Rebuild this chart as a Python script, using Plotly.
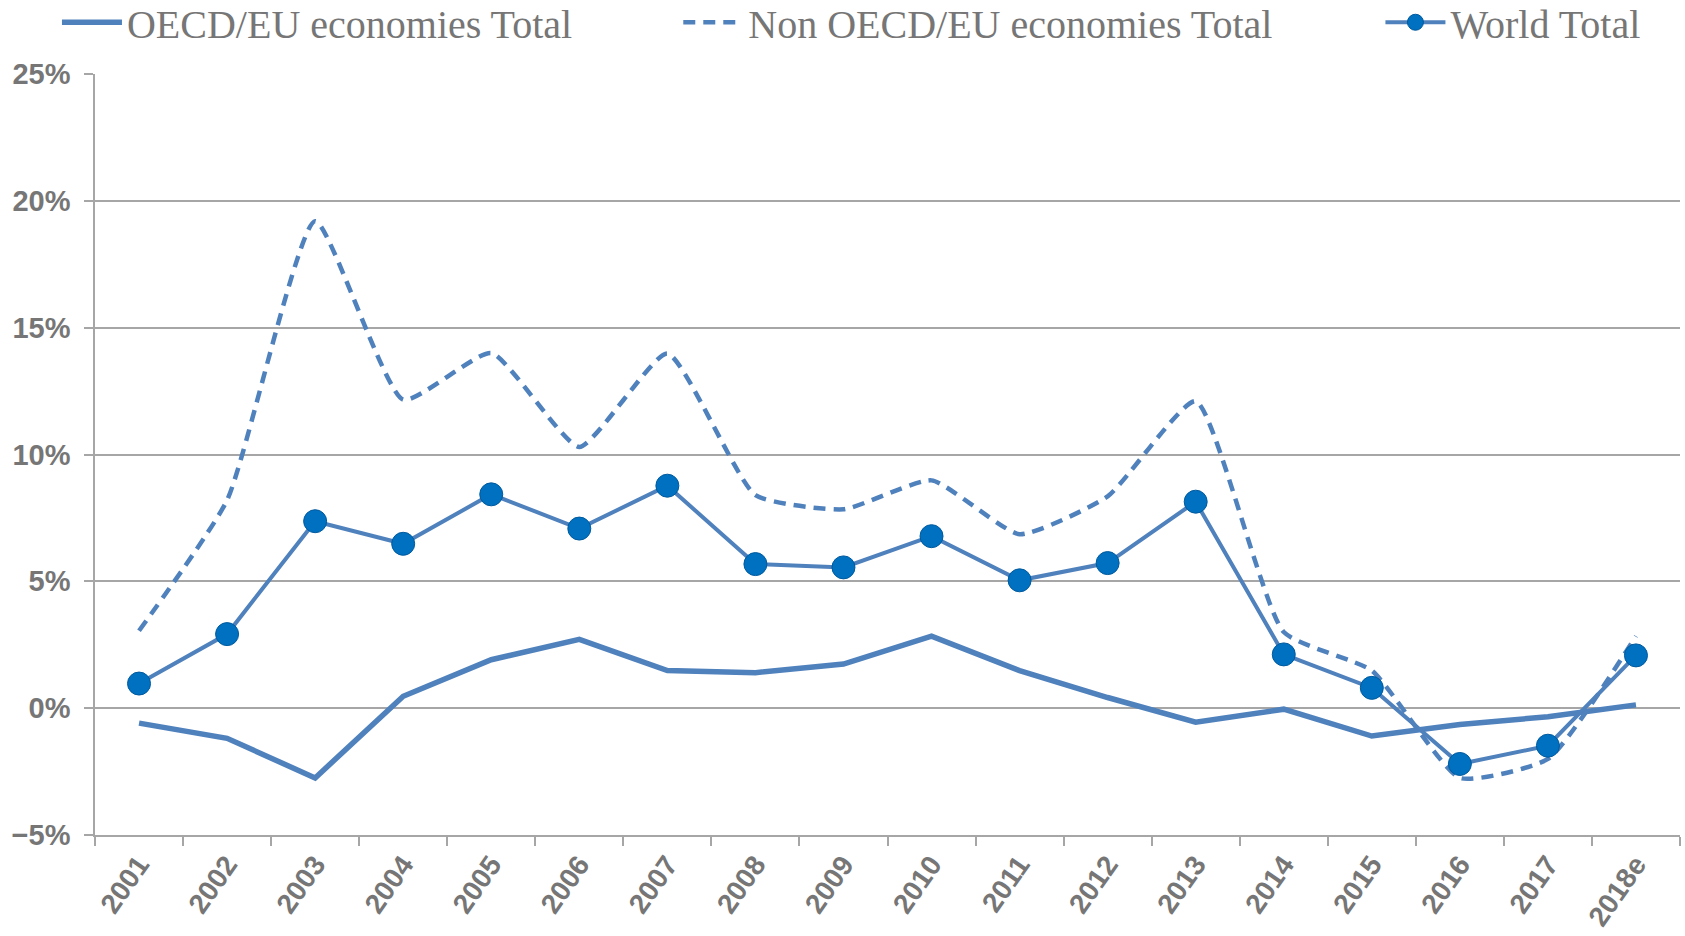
import plotly.graph_objects as go

years = ["2001", "2002", "2003", "2004", "2005", "2006", "2007", "2008", "2009",
         "2010", "2011", "2012", "2013", "2014", "2015", "2016", "2017", "2018e"]
oecd = [-0.59, -1.19, -2.75, 0.47, 1.91, 2.71, 1.48, 1.40, 1.74,
        2.84, 1.48, 0.42, -0.55, -0.04, -1.10, -0.64, -0.34, 0.13]
non_oecd = [3.05, 8.2, 19.2, 12.16, 14.0, 10.3, 13.98, 8.4, 7.84,
            8.98, 6.86, 8.35, 12.1, 3.0, 1.48, -2.75, -2.0, 2.84]
world = [0.97, 2.92, 7.37, 6.48, 8.43, 7.08, 8.77, 5.68, 5.55,
         6.78, 5.04, 5.72, 8.14, 2.12, 0.8, -2.2, -1.48, 2.08]

LINE = "#4F81BD"
MARK = "#0070C0"
GRAY = "#767676"
GRID = "#A6A6A6"

fig = go.Figure()
fig.add_trace(go.Scatter(x=years, y=oecd, mode="lines", name="OECD/EU economies Total",
                         line=dict(color=LINE, width=5.5), legend="legend"))
fig.add_trace(go.Scatter(x=years, y=non_oecd, mode="lines", name="Non OECD/EU economies Total",
                         line=dict(color=LINE, width=4.5, dash="12px,8px", shape="spline", smoothing=0.5),
                         legend="legend2"))
fig.add_trace(go.Scatter(x=years, y=world, mode="lines+markers", name="World Total",
                         line=dict(color=LINE, width=4),
                         marker=dict(color=MARK, size=23, line=dict(color="#005A9E", width=1)),
                         legend="legend3"))

legfont = dict(family="Liberation Serif, DejaVu Serif, serif", size=40, color=GRAY)
common = dict(orientation="h", yanchor="middle", y=1.068, xanchor="left",
              font=legfont, bgcolor="rgba(0,0,0,0)", itemwidth=60)

fig.update_layout(
    width=1685, height=936,
    margin=dict(l=95, r=5, t=74, b=101, autoexpand=False),
    paper_bgcolor="white", plot_bgcolor="white",
    showlegend=True,
    legend=dict(x=-0.024, **common),
    legend2=dict(x=0.368, **common),
    legend3=dict(x=0.811, **common),
    xaxis=dict(type="category", range=[-0.5, 17.5], tickson="boundaries", ticks="outside", ticklen=9,
               tickcolor=GRID, tickwidth=1.5, showline=True, linecolor=GRID, linewidth=1.5,
               tickangle=-55, showgrid=False, automargin=False,
               tickfont=dict(family="Liberation Sans, Arial, sans-serif", size=28, color=GRAY,
                             weight="bold")),
    yaxis=dict(range=[-5, 25], dtick=5, ticksuffix="%", showgrid=True, gridcolor=GRID,
               gridwidth=1.5, zeroline=False, showline=True, linecolor=GRID, linewidth=1.5,
               ticks="outside", ticklen=9, tickcolor=GRID, tickwidth=1.5, automargin=False,
               ticklabelstandoff=8,
               tickfont=dict(family="Liberation Sans, Arial, sans-serif", size=29, color=GRAY,
                             weight="bold")),
)

fig.write_html("out.html", config={"displayModeBar": False},
               post_script="document.body.style.margin='0';")
